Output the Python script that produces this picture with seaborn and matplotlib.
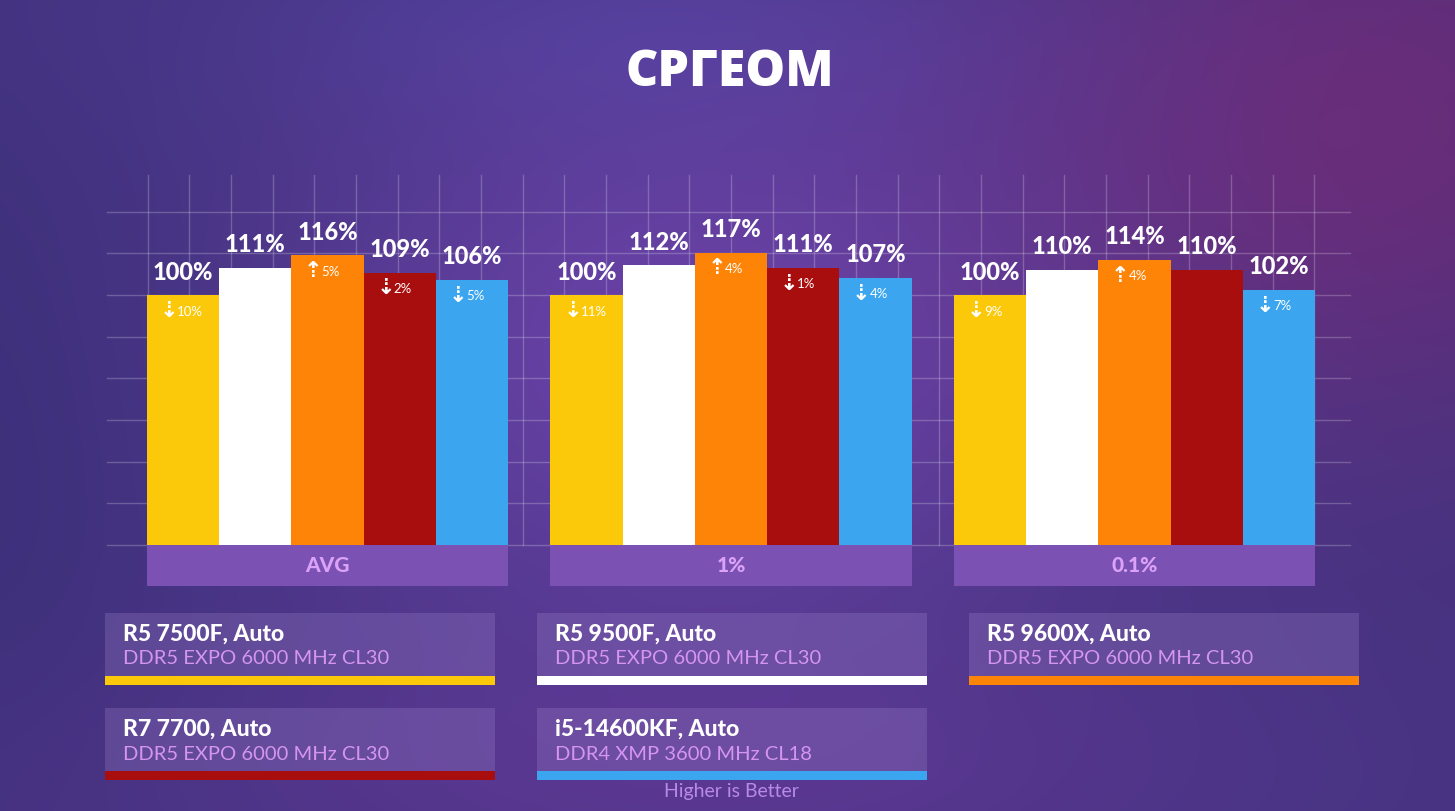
import numpy as np
import pandas as pd
import matplotlib
matplotlib.use("Agg")
import matplotlib.pyplot as plt
from matplotlib.patches import Rectangle
import seaborn as sns

# ---------------- data ----------------
title = "СРГЕОМ"
categories = ["AVG", "1%", "0.1%"]
cpus = ["R5 7500F, Auto", "R5 9500F, Auto", "R5 9600X, Auto", "R7 7700, Auto", "i5-14600KF, Auto"]
memory = ["DDR5 EXPO 6000 MHz CL30", "DDR5 EXPO 6000 MHz CL30", "DDR5 EXPO 6000 MHz CL30",
          "DDR5 EXPO 6000 MHz CL30", "DDR4 XMP 3600 MHz CL18"]
colors = ["#fbc90a", "#ffffff", "#fd8406", "#a90e0e", "#3ba5ef"]

r5_7500f = [100, 100, 100]
r5_9500f = [111, 112, 110]
r5_9600x = [116, 117, 114]
r7_7700 = [109, 111, 110]
i5_14600kf = [106, 107, 102]

# relative change vs R5 9500F (sign, amount); None = no badge
d_7500f = [("down", 10), ("down", 11), ("down", 9)]
d_9500f = [None, None, None]
d_9600x = [("up", 5), ("up", 4), ("up", 4)]
d_7700 = [("down", 2), ("down", 1), None]
d_14600kf = [("down", 5), ("down", 4), ("down", 7)]

footer = "Higher is Better"

series = [r5_7500f, r5_9500f, r5_9600x, r7_7700, i5_14600kf]
deltas = [d_7500f, d_9500f, d_9600x, d_7700, d_14600kf]
df = pd.DataFrame([
    {"cat": c, "cpu": cpu, "val": v}
    for cpu, vals in zip(cpus, series) for c, v in zip(categories, vals)
])

# ---------------- figure ----------------
W, H = 1455, 811
fig = plt.figure(figsize=(W / 100, H / 100), dpi=100)

# background gradient
bg = fig.add_axes([0, 0, 1, 1], zorder=0)
bg.set_axis_off()
yy, xx = np.mgrid[0:H, 0:W]
base = np.array([0x44, 0x33, 0x80], float) / 255
img = np.ones((H, W, 3)) * base

def blob(cx, cy, sx, sy, col, amp):
    g = np.exp(-(((xx - cx) / sx) ** 2 + ((yy - cy) / sy) ** 2))
    return g[..., None] * (np.array(col, float) / 255 - base) * amp

img = img + blob(700, 350, 420, 300, [0x68, 0x42, 0xa6], 1.0)
img = img + blob(1380, 120, 380, 300, [0x68, 0x2c, 0x78], 0.95)
img = img + blob(650, 20, 450, 120, [0x4e, 0x40, 0x9a], 0.7)
img = img + blob(0, 450, 200, 350, [0x3a, 0x2f, 0x78], 0.8)
img = img + blob(700, 780, 600, 150, [0x62, 0x38, 0x96], 0.6)
img = np.clip(img, 0, 1)
bg.imshow(img, extent=[0, W, H, 0], aspect="auto")
bg.set_xlim(0, W)
bg.set_ylim(H, 0)

# main axes mapped onto the figure
ax = fig.add_axes([0, 0, 1, 1], zorder=1)
ax.patch.set_alpha(0)
X0, UX = 327.5, 403.5   # px of category 0 centre, px per category
Y0, UY = 545.0, 2.5     # px of value 0, px per percent

def px(x):
    return (x - X0) / UX

def py(y):
    return (Y0 - y) / UY

ax.set_xlim(px(0), px(W))
ax.set_ylim(py(H), py(0))
ax.set_axis_off()

# grid
gcol = (1, 1, 1, 0.22)
step = 41.67
for k in range(9):
    ax.plot([px(107), px(1350)], [py(545 - k * step)] * 2, color=gcol, lw=1, zorder=1)
for k in range(29):
    xk = 147.7 + k * step
    if xk > 1316:
        break
    ax.plot([px(xk)] * 2, [py(545), py(175)], color=gcol, lw=1, zorder=1)

sns.barplot(data=df, x="cat", y="val", hue="cpu", order=categories, hue_order=cpus,
            palette=colors, width=0.895, gap=0, dodge=True, saturation=1,
            legend=False, ax=ax, zorder=3, linewidth=0)
ax.set_xlim(px(0), px(W))
ax.set_ylim(py(H), py(0))
ax.set_axis_off()

LATO = ["Lato", "DejaVu Sans"]

# value labels and deltas
for i, cont in enumerate(ax.containers):
    for j, bar in enumerate(cont):
        cx = bar.get_x() + bar.get_width() / 2
        h = bar.get_height()
        ax.text(cx, h + 4.6, f"{series[i][j]}%", ha="center", va="bottom",
                color="white", fontsize=17, fontweight="black", family=LATO, zorder=5)
        d = deltas[i][j]
        if d is not None:
            arrow = "⇣" if d[0] == "down" else "⇡"
            ax.text(cx - 14 / UX, h - 6.4, arrow, ha="center", va="center",
                    color="white", fontsize=16, fontweight="bold", family=["DejaVu Sans"], zorder=5)
            ax.text(cx - 6 / UX, h - 6.6, f"{d[1]}%", ha="left", va="center",
                    color="white", fontsize=9.5, family=LATO, zorder=5)

# category label boxes
for j, c in enumerate(categories):
    cont0 = ax.containers[0][j]
    contN = ax.containers[-1][j]
    x0 = cont0.get_x()
    x1 = contN.get_x() + contN.get_width()
    ax.add_patch(Rectangle((x0, py(586)), x1 - x0, py(545) - py(586),
                           facecolor="#7b52b3", edgecolor="none", zorder=2))
    ax.text((x0 + x1) / 2, py(566), c, ha="center", va="center", color="#dba2f8",
            fontsize=15, fontweight="black", family=LATO, zorder=5)

# legend cards
cols_x = [105, 537, 969]
rows_y = [613, 708]
card_w, card_h, strip_h = 390, 63, 9
for k, (cpu, mem, col) in enumerate(zip(cpus, memory, colors)):
    r, c = divmod(k, 3)
    x0, y0 = cols_x[c], rows_y[r]
    ax.add_patch(Rectangle((px(x0), py(y0 + card_h)), px(x0 + card_w) - px(x0), py(y0) - py(y0 + card_h),
                           facecolor=(0.62, 0.52, 0.80, 0.28), edgecolor="none", zorder=2))
    ax.add_patch(Rectangle((px(x0), py(y0 + card_h + strip_h)), px(x0 + card_w) - px(x0),
                           py(y0 + card_h) - py(y0 + card_h + strip_h),
                           facecolor=col, edgecolor="none", zorder=2))
    ax.text(px(x0 + 18), py(y0 + 21), cpu, ha="left", va="center", color="white",
            fontsize=16.5, fontweight="black", family=LATO, zorder=5)
    ax.text(px(x0 + 18), py(y0 + 46), mem, ha="left", va="center", color="#d595ef",
            fontsize=14.5, family=LATO, zorder=5)

# title and footer
fig.text(730 / W, 1 - 73 / H, title, ha="center", va="center", color="white",
         fontsize=36, fontweight="heavy", family=["Open Sans", "DejaVu Sans"])
fig.text(731 / W, 1 - 792 / H, footer, ha="center", va="center", color="#b88ae6",
         fontsize=14, family=LATO)

fig.savefig("out.png", dpi=100)
